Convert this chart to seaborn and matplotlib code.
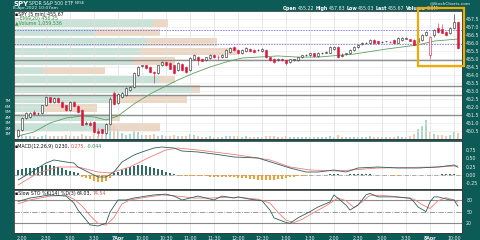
import numpy as np
import pandas as pd
import matplotlib
matplotlib.use("Agg")
import matplotlib.pyplot as plt
import seaborn as sns
from matplotlib.patches import Rectangle

# ---------------- data ----------------
opens = [450.19,450.56,451.30,451.35,451.70,451.60,451.62,452.10,452.60,452.30,
         452.55,452.30,452.10,451.80,452.30,452.05,451.80,450.95,451.00,451.06,
         450.50,450.60,450.35,450.95,452.90,452.25,452.60,452.75,453.05,453.25,
         454.00,454.55,454.60,454.50,454.20,454.10,454.60,454.80,454.75,454.60,
         454.30,454.70,454.50,454.30,455.00,455.15,455.00,454.95,455.05,455.25,
         455.12,455.10,455.15,455.45,455.75,455.55,455.35,455.50,455.62,455.55,
         455.55,455.50,455.58,455.12,455.00,454.95,455.00,454.92,454.80,454.95,
         454.95,455.12,455.22,455.25,455.35,455.20,455.38,455.40,455.40,455.62,
         455.75,455.20,455.30,455.35,455.55,455.75,455.95,456.00,456.00,456.20,
         456.10,456.05,456.10,456.08,456.20,456.02,456.20,456.28,456.22,456.20,
         456.05,456.20,456.50,455.22,456.50,456.95,456.85,456.70,456.60,456.94,
         457.30]
highs = [450.62,451.35,451.70,451.70,451.80,451.70,452.15,452.70,452.65,452.60,
         452.60,452.35,452.15,452.40,452.35,452.10,451.85,451.10,451.10,451.10,
         450.70,450.65,451.00,452.60,453.00,452.90,452.95,453.25,453.30,454.20,
         454.55,454.65,454.65,454.55,454.25,454.65,454.85,454.85,454.80,454.65,
         454.80,454.75,454.55,455.10,455.30,455.20,455.05,455.15,455.30,455.30,
         455.25,455.30,455.60,455.75,455.80,455.60,455.60,455.75,455.68,455.60,
         455.65,455.68,455.62,455.15,455.05,455.05,455.05,454.95,455.02,455.02,
         455.15,455.28,455.30,455.40,455.38,455.42,455.45,455.48,455.80,455.80,
         455.80,455.35,455.40,455.60,455.80,455.92,456.05,456.05,456.22,456.25,
         456.15,456.12,456.15,456.12,456.22,456.35,456.35,456.35,456.25,456.25,
         456.35,456.55,456.75,456.45,456.85,457.25,457.20,456.75,457.00,457.83,
         457.35]
lows = [450.10,450.50,451.25,451.30,451.50,451.50,451.55,452.05,452.25,452.25,
        452.25,451.95,451.75,451.75,452.00,451.65,450.85,450.85,450.80,450.40,
        450.20,450.30,450.30,450.90,452.15,452.20,452.55,452.70,453.00,453.20,
        453.95,454.50,454.40,454.15,453.50,454.05,454.55,454.55,454.35,454.05,
        454.25,454.25,454.15,454.25,454.95,454.65,454.85,454.90,455.00,455.05,
        454.95,455.05,455.10,455.40,455.50,455.30,455.30,455.45,455.45,455.40,
        455.50,455.45,455.08,454.90,454.75,454.90,454.88,454.60,454.75,454.90,
        454.90,455.08,455.18,455.20,455.15,455.15,455.32,455.35,455.35,455.58,
        455.08,455.10,455.25,455.30,455.50,455.70,455.90,455.95,455.95,455.95,
        455.95,456.00,456.05,456.00,455.98,455.98,456.15,456.22,456.10,455.85,
        455.85,456.15,456.45,455.03,456.40,456.65,456.60,456.45,456.55,456.90,
        455.60]
closes = [450.56,451.31,451.60,451.65,451.55,451.62,452.12,452.62,452.30,452.55,
          452.30,452.00,451.80,452.30,452.05,451.70,450.90,451.00,450.85,450.44,
          450.40,450.35,450.95,452.50,452.20,452.80,452.87,453.19,453.25,454.12,
          454.50,454.60,454.45,454.20,454.10,454.60,454.80,454.60,454.40,454.10,
          454.75,454.30,454.20,455.05,455.25,454.95,454.90,455.10,455.25,455.12,
          455.10,455.25,455.55,455.70,455.55,455.35,455.55,455.70,455.50,455.45,
          455.58,455.62,455.12,454.95,454.80,455.00,454.92,454.75,454.98,454.98,
          455.12,455.25,455.27,455.38,455.20,455.38,455.40,455.42,455.75,455.75,
          455.12,455.25,455.35,455.55,455.75,455.88,456.00,456.00,456.19,456.00,
          455.98,456.08,456.12,456.05,456.00,456.30,456.30,456.30,456.15,455.88,
          456.30,456.50,456.69,456.38,456.81,456.70,456.65,456.50,456.94,457.31,
          455.67]
volume_m = [0.9,0.7,0.6,0.5,0.6,0.4,0.5,0.8,0.6,0.5,0.5,0.6,0.7,0.6,0.5,0.6,1.0,0.5,0.6,0.9,
            0.6,0.8,0.9,2.4,2.2,1.8,1.1,0.8,0.9,1.5,1.2,0.8,0.7,0.7,0.9,0.6,
            0.7,0.5,0.6,0.8,0.6,0.5,0.6,0.9,0.7,0.5,0.4,0.4,
            0.5,0.4,0.4,0.4,0.6,0.6,0.5,0.5,0.4,0.5,0.4,0.3,
            0.3,0.3,0.6,0.6,0.5,0.4,0.4,0.5,0.4,0.3,0.4,0.4,
            0.3,0.4,0.4,0.4,0.3,0.3,0.5,0.4,0.8,0.4,0.3,0.4,
            0.4,0.4,0.3,0.3,0.5,0.4,0.4,0.3,0.3,0.3,0.4,0.5,
            0.4,0.4,0.6,1.0,
            1.9,2.4,3.5,1.2,0.9,0.7,0.8,0.6,0.7,1.3,1.06]

ema_idx = [0,4,8,12,16,19,22,25,29,33,36,40,44,48,52,56,60,65,70,75,84,92,100,104,110]
ema_vals = [450.19,450.44,451.00,451.31,451.44,451.38,451.19,451.44,452.19,452.81,453.19,
            453.69,454.12,454.50,454.81,455.06,455.12,455.19,455.12,455.12,455.31,455.62,
            455.88,456.12,456.25]

# volume by price zones (price centre, up volume M, down volume M)
vbp_price = [457.25,456.66,456.07,455.47,454.89,454.29,453.71,453.11,452.52,451.93,451.34,450.75]
vbp_up    = [13.9, 8.1, 13.3, 12.6, 11.9, 2.9, 14.6, 17.8, 10.6, 2.9, 9.9, 9.4]
vbp_down  = [1.5, 6.5, 7.0, 9.7, 4.2, 6.2, 1.5, 0.8, 6.7, 5.4, 0.7, 5.2]

support_lines = [454.95, 453.31, 452.75, 451.50]
dashed_lines = [456.81, 455.94]

macd_idx = [0,3,7,9,12,14,15,18,20,22,24,26,29,31,34,36,39,41,45,49,54,60,64,68,72,75,79,82,85,90,95,100,105,109,110]
macd_vals = [-0.15,0.06,0.36,0.45,0.39,0.36,0.24,0.06,-0.06,-0.06,0.09,0.39,0.60,0.69,0.81,0.84,
             0.81,0.72,0.69,0.63,0.54,0.51,0.36,0.21,0.09,0.09,0.15,0.09,0.21,0.24,0.21,0.21,
             0.24,0.30,0.23]
sig_idx = [0,5,10,15,20,23,28,33,37,40,45,55,63,68,73,80,90,105,110]
sig_vals = [-0.30,0.06,0.24,0.24,0.09,0.06,0.24,0.54,0.75,0.81,0.75,0.60,0.45,0.24,0.15,0.12,
            0.21,0.24,0.275]
hist_vals = [0.15,0.18,0.20,0.20,0.22,0.25,0.28,0.30,0.30,0.28,0.25,0.20,0.16,0.12,0.10,0.05,
             -0.05,-0.10,-0.13,-0.18,-0.22,-0.22,-0.18,-0.08,
             0.05,0.10,0.15,0.20,0.24,0.27,0.30,0.30,0.28,0.25,0.22,0.18,0.14,0.10,0.06,0.03,0.01,
             -0.02,-0.02,-0.03,-0.03,-0.03,
             -0.04,-0.04,-0.05,-0.05,-0.05,-0.05,-0.06,-0.06,-0.07,-0.08,
             -0.09,-0.10,-0.12,-0.13,-0.14,-0.15,-0.15,-0.15,
             -0.14,-0.13,-0.11,-0.09,-0.07,
             -0.05,-0.04,-0.03,-0.02,-0.01,-0.01,
             0.0,0.01,0.01,0.02,
             0.02,0.02,0.01,0.01,0.02,0.02,0.02,0.02,0.02,0.02,0.01,0.01,
             0.0,0.0,-0.01,-0.02,-0.02,-0.01,0.0,0.01,0.01,
             0.01,0.01,0.0,-0.01,0.01,0.01,0.02,0.02,0.02,0.03,-0.044]

k_idx = [0,3,8,12,14,15,17,18,20,22,23,25,27,29,32,34,37,39,41,43,45,49,51,54,55,58,61,63,64,67,68,
         70,73,75,78,79,82,83,85,87,88,90,94,98,99,100,102,103,104,105,108,109,110]
k_vals = [76,85,93,90,72,54,29,16,13,20,49,80,80,85,90,93,95,90,80,85,90,80,90,85,88,82,78,54,34,
          22,20,34,50,62,75,93,67,54,67,93,97,88,88,85,75,62,50,75,88,88,80,80,64.03]
d_idx = [0,3,8,12,14,16,18,20,22,24,26,28,32,36,40,44,48,52,56,60,63,65,67,69,71,74,77,80,82,84,
         86,88,91,95,99,101,103,105,107,109,110]
d_vals = [70,80,90,92,82,65,40,20,15,35,70,80,87,93,90,85,85,87,86,82,72,48,28,22,30,48,65,85,78,
          60,75,92,92,88,82,68,58,78,86,80,74.54]

tick_idx = [1,7,13,19,25,31,37,43,49,55,61,67,73,79,85,91,97,103,109]
tick_labels = ["2:00","2:30","3:00","3:30","7Apr","10:00","10:30","11:00","11:30","12:00",
               "12:30","1:00","1:30","2:00","2:30","3:00","3:30","8Apr","10:00"]

# ---------------- style ----------------
sns.set_theme(style="white")
plt.rcParams['font.family'] = ['DejaVu Sans']

W, H = 480, 240
BG = '#0d5b56'
TXT = '#e8f0ee'
fig = plt.figure(figsize=(W/100, H/100), dpi=100, facecolor=BG)

def fx(x):
    return x / W

def fy(y):
    return 1 - y / H

def axes_px(x0, y0, x1, y1, **kw):
    return fig.add_axes([fx(x0), fy(y1), (x1 - x0) / W, (y1 - y0) / H], **kw)

n = len(closes)
idx = np.arange(n)
XL = (-1, 111)

# background axes with volume-by-price
ax_bg = axes_px(14, 11, 462, 139)
ax_bg.set_facecolor('white')
ax_bg.barh(vbp_price, vbp_up, height=0.48, color='#c9e2d8', lw=0)
ax_bg.barh(vbp_price, vbp_down, left=vbp_up, height=0.48, color='#ecd7c5', lw=0)
ax_bg.set_xlim(0, 44.8)
ax_bg.set_ylim(450.0, 458.0)
ax_bg.set_xticks([]); ax_bg.set_yticks([])
for s in ax_bg.spines.values():
    s.set_visible(False)

# volume axis
ax_vol = axes_px(14, 11, 462, 139)
ax_vol.patch.set_alpha(0)
up_flags = [True] + [closes[i] >= closes[i-1] for i in range(1, n)]
vcols = ['#acd6c8' if u else '#f0c9b1' for u in up_flags]
ax_vol.bar(idx, volume_m, width=0.7, color=vcols, lw=0)
ax_vol.set_xlim(*XL)
ax_vol.set_ylim(0, 23.3)
ax_vol.set_xticks([])
ax_vol.set_yticks([1, 2, 3, 4, 5, 6, 7])
ax_vol.set_yticklabels([f"{v}M" for v in range(1, 8)])
ax_vol.tick_params(axis='y', left=True, length=0, pad=2, labelsize=3.2, labelcolor=TXT)
for s in ax_vol.spines.values():
    s.set_visible(False)

# price axis
ax_p = axes_px(14, 11, 462, 139)
ax_p.patch.set_alpha(0)
ax_p.set_xlim(*XL)
ax_p.set_ylim(450.0, 458.0)
for t in tick_idx:
    ax_p.axvline(t, color='#e0e0e0', lw=0.5, zorder=0)
for yv in np.arange(450.5, 457.6, 0.5):
    ax_p.axhline(yv, color='#e6e6e6', lw=0.4, zorder=0)
for yv in support_lines:
    ax_p.axhline(yv, color='#8e8e8e', lw=1.0, zorder=1)
for yv in dashed_lines:
    ax_p.axhline(yv, color='#6a6ad8', lw=0.55, ls=(0, (2, 1.5)), zorder=1)

sns.lineplot(x=ema_idx, y=ema_vals, ax=ax_p, color='#5aa15c', lw=0.6, zorder=2)

prev = [closes[0]] + closes[:-1]
for i in range(n):
    o, h, l, c = opens[i], highs[i], lows[i], closes[i]
    col = '#222222' if c >= prev[i] or i == 0 else '#d8183a'
    filled = c < o
    ax_p.vlines(i, l, h, color=col, lw=0.4, zorder=3)
    body = max(abs(c - o), 0.02)
    ax_p.bar(i, body, bottom=min(o, c), width=0.62,
             color=(col if filled else 'white'), edgecolor=col, lw=0.4, zorder=4)

ax_p.yaxis.tick_right()
ax_p.set_yticks(np.arange(450.5, 457.6, 0.5))
ax_p.set_yticklabels([f"{v:.1f}" for v in np.arange(450.5, 457.6, 0.5)])
ax_p.tick_params(axis='y', right=True, length=0, pad=3, labelsize=3.4, labelcolor=TXT)
ax_p.set_xticks([])
ax_p.set_xlabel(''); ax_p.set_ylabel('')
for s in ax_p.spines.values():
    s.set_color('#3a3a3a'); s.set_linewidth(0.6)

# MACD axis
ax_m = axes_px(14, 141, 462, 189)
ax_m.set_facecolor('white')
ax_m.set_xlim(*XL)
ax_m.set_ylim(-0.42, 1.02)
for t in tick_idx:
    ax_m.axvline(t, color='#e0e0e0', lw=0.5, zorder=0)
ax_m.axhline(0, color='#8a8a8a', lw=0.5, ls='-.', zorder=1)
hcols = ['#2f6d63' if v >= 0 else '#f0a030' for v in hist_vals]
ax_m.bar(idx, hist_vals, width=0.7, color=hcols, lw=0, zorder=2)
sns.lineplot(x=sig_idx, y=sig_vals, ax=ax_m, color='#f07a7a', lw=0.6, zorder=3)
sns.lineplot(x=macd_idx, y=macd_vals, ax=ax_m, color='#2e5f59', lw=0.6, zorder=4)
ax_m.yaxis.tick_right()
ax_m.set_yticks([-0.25, 0.0, 0.25, 0.5, 0.75])
ax_m.set_yticklabels(["-0.25", "0.00", "0.25", "0.50", "0.75"])
ax_m.tick_params(axis='y', right=True, length=0, pad=3, labelsize=3.4, labelcolor=TXT)
ax_m.set_xticks([])
ax_m.set_xlabel(''); ax_m.set_ylabel('')
for s in ax_m.spines.values():
    s.set_color('#3a3a3a'); s.set_linewidth(0.6)

# Stochastics axis
ax_s = axes_px(14, 190, 462, 233)
ax_s.set_facecolor('white')
ax_s.set_xlim(*XL)
ax_s.set_ylim(-5, 105.7)
for t in tick_idx:
    ax_s.axvline(t, color='#e0e0e0', lw=0.5, zorder=0)
ax_s.axhline(80, color='#8a8a8a', lw=0.8, zorder=1)
ax_s.axhline(20, color='#8a8a8a', lw=0.8, zorder=1)
ax_s.axhline(50, color='#8a8a8a', lw=0.6, ls='-.', zorder=1)
sns.lineplot(x=d_idx, y=d_vals, ax=ax_s, color='#f07a7a', lw=0.6, zorder=3)
sns.lineplot(x=k_idx, y=k_vals, ax=ax_s, color='#2e5f59', lw=0.6, zorder=4)
ax_s.yaxis.tick_right()
ax_s.set_yticks([20, 50, 80])
ax_s.set_yticklabels(["20", "50", "80"])
ax_s.tick_params(axis='y', right=True, length=0, pad=3, labelsize=3.4, labelcolor=TXT)
ax_s.set_xticks(tick_idx)
ax_s.set_xticklabels(tick_labels)
ax_s.tick_params(axis='x', bottom=True, length=0, pad=2, labelsize=3.4, labelcolor=TXT)
for lab in ax_s.get_xticklabels():
    if 'Apr' in lab.get_text():
        lab.set_fontweight('bold')
ax_s.set_xlabel(''); ax_s.set_ylabel('')
for s in ax_s.spines.values():
    s.set_color('#3a3a3a'); s.set_linewidth(0.6)

# ---------------- texts ----------------
renderer = fig.canvas.get_renderer()

def seq_text(x_px, y_px, parts, gap=1.0):
    x = x_px
    for s, c, size, w in parts:
        t = fig.text(fx(x), fy(y_px), s, color=c, fontsize=size, fontweight=w,
                     va='center', ha='left')
        bb = t.get_window_extent(renderer=renderer)
        x += bb.width + gap

seq_text(13, 3.5, [("SPY", 'white', 5.0, 'bold'), ("SPDR S&P 500 ETF", TXT, 3.4, 'normal'),
                   ("NYSE", TXT, 2.8, 'normal')])
fig.text(fx(13), fy(8), "8-Apr-2022 10:07am", color=TXT, fontsize=3.2, va='center', ha='left')
seq_text(283, 8.3, [("Open", 'white', 3.4, 'bold'), ("455.22", TXT, 3.4, 'normal'),
                    ("High", 'white', 3.4, 'bold'), ("457.83", TXT, 3.4, 'normal'),
                    ("Low", 'white', 3.4, 'bold'), ("455.03", TXT, 3.4, 'normal'),
                    ("Last", 'white', 3.4, 'bold'), ("455.67", TXT, 3.4, 'normal'),
                    ("Volume", 'white', 3.4, 'bold'), ("0.3M", TXT, 3.4, 'normal')])
fig.text(fx(430), fy(3.5), "@StockCharts.com", color=TXT, fontsize=3.2, va='center', ha='left')

seq_text(15, 14.5, [("\u25aaSPY (5 min) 455.67", '#111111', 3.4, 'normal')])
seq_text(15, 18.5, [("\u2014EMA(20) 456.25", '#3f8f45', 3.4, 'normal')])
seq_text(15, 22.5, [("\u25b2Volume 1,059,536", '#3f8f45', 3.4, 'normal')])

seq_text(15, 146.5, [("\u25aaMACD(12,26,9)", '#111111', 3.4, 'normal'),
                     ("0.230,", '#111111', 3.4, 'normal'),
                     ("0.275,", '#e05050', 3.4, 'normal'),
                     ("-0.044", '#2f8a5a', 3.4, 'normal')])
seq_text(15, 193.5, [("\u25aaSlow STO %K(14) %D(3)", '#111111', 3.4, 'normal'),
                     ("64.03,", '#111111', 3.4, 'normal'),
                     ("74.54", '#e05050', 3.4, 'normal')])

# highlight box
fig.patches.append(Rectangle((fx(418), fy(66)), (464 - 418) / W, (66 - 8) / H,
                             transform=fig.transFigure, fill=False,
                             edgecolor='#f2a900', lw=1.6, zorder=10))

fig.savefig("out.png", dpi=100, facecolor=BG)
